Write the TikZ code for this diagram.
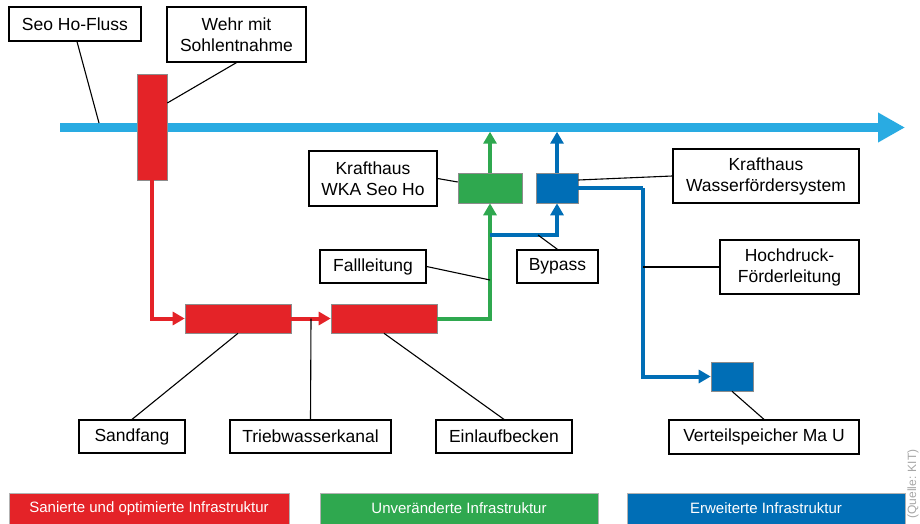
\documentclass[tikz,border=0pt]{standalone}
\usepackage{fontspec}
\setmainfont{Liberation Sans}
\usepackage{tikz}
\usetikzlibrary{arrows.meta, positioning, calc}

\definecolor{rivercyan}{HTML}{29ABE2}
\definecolor{infrared}{HTML}{E42328}
\definecolor{infragreen}{HTML}{2FA84F}
\definecolor{infrablue}{HTML}{006EB6}

\begin{document}
\begin{tikzpicture}[
        x=1pt, y=-1pt,
        tag/.style={rectangle, draw=black, line width=1.2pt, fill=white, align=center, inner sep=1pt, font=\fontsize{17.5}{21}\selectfont},
        unit/.style={rectangle, draw=black!45, line width=0.6pt, inner sep=0pt},
        legend/.style={rectangle, draw=black!30, line width=0.6pt, inner sep=0pt, minimum height=31pt, text=white, font=\fontsize{15}{18}\selectfont},
        pipe/.style={line width=4pt, -{Triangle[length=12pt, width=13pt]}},
        plainpipe/.style={line width=4pt},
        leader/.style={line width=1.1pt, black}
    ]
        \useasboundingbox (0,0) rectangle (920,524);

        % River
        \coordinate (riverW) at (60,127.5);
        \coordinate (riverE) at (905,127.5);
        \draw [rivercyan, line width=9pt, -{Triangle[length=27pt, width=28pt]}] (riverW) -- (riverE);

        % Infrastructure units
        \node (weir) [unit, fill=infrared, minimum width=30pt, minimum height=106pt] at (152,127) {};
        \node (sand) [unit, fill=infrared, minimum width=106pt, minimum height=29pt] at (238,318.5) {};
        \node (basin) [unit, fill=infrared, minimum width=106pt, minimum height=29pt] at (384,318.5) {};
        \node (khwka) [unit, fill=infragreen, minimum width=64pt, minimum height=30pt] at (490,188) {};
        \node (khwfs) [unit, fill=infrablue, minimum width=42pt, minimum height=30pt] at (557,188) {};
        \node (store) [unit, fill=infrablue, minimum width=42pt, minimum height=29pt] at (732,376.5) {};

        % Labels
        \node (lfluss) [tag, minimum width=132pt, minimum height=34pt] at (75,24) {Seo Ho-Fluss};
        \node (lwehr) [tag, minimum width=139pt, minimum height=55pt] at (236.5,34.5) {Wehr mit\\Sohlentnahme};
        \node (lwka) [tag, minimum width=128pt, minimum height=55pt] at (373,178.5) {Krafthaus\\WKA Seo Ho};
        \node (lwfs) [tag, minimum width=186pt, minimum height=54pt] at (766,176) {Krafthaus\\Wasserfördersystem};
        \node (lfall) [tag, minimum width=106pt, minimum height=33pt] at (373,266.5) {Fallleitung};
        \node (lbypass) [tag, minimum width=81pt, minimum height=33pt] at (557.5,266.5) {Bypass};
        \node (lhoch) [tag, minimum width=139pt, minimum height=54pt] at (789.5,267) {Hochdruck-\\Förderleitung};
        \node (lsand) [tag, minimum width=106pt, minimum height=33pt] at (132,436.5) {Sandfang};
        \node (lkanal) [tag, minimum width=161pt, minimum height=33pt] at (310.5,436.5) {Triebwasserkanal};
        \node (lbasin) [tag, minimum width=136pt, minimum height=33pt] at (504,436.5) {Einlaufbecken};
        \node (lstore) [tag, minimum width=190pt, minimum height=34pt] at (764,437) {Verteilspeicher Ma U};

        % Legend
        \node (legred) [legend, fill=infrared, minimum width=280pt] at (149,508.5) {Sanierte und optimierte Infrastruktur};
        \node (leggreen) [legend, fill=infragreen, minimum width=278pt] at (459,508.5) {Unveränderte Infrastruktur};
        \node (legblue) [legend, fill=infrablue, minimum width=278pt] at (766,508.5) {Erweiterte Infrastruktur};
        \node (source) [rotate=90, text=black!35, font=\fontsize{12}{14}\selectfont, inner sep=0pt] at (913,484) {(Quelle: KIT)};

        % Points on pipes
        \coordinate (fluss) at (99,123);
        \coordinate (kanal) at (311,318.5);
        \coordinate (fallpt) at (490,280);
        \coordinate (bystart) at (490,235);
        \coordinate (bypt) at (538,235);
        \coordinate (hdknee) at (643,188);
        \coordinate (hdpt) at (643,267);

        % Pipes - red
        \draw [pipe, infrared] (weir.south) |- (sand.west);
        \draw [pipe, infrared] (sand.east) -- (basin.west);

        % Pipes - green
        \draw [pipe, infragreen] (basin.east) -| (khwka.south);
        \draw [pipe, infragreen] (khwka.north) -- ($(khwka.north)+(0,-41)$);

        % Pipes - blue
        \draw [pipe, infrablue] (bystart) -| (khwfs.south);
        \draw [pipe, infrablue] (khwfs.north) -- ($(khwfs.north)+(0,-41)$);
        \draw [plainpipe, infrablue] (khwfs.east) -- (hdknee);
        \draw [pipe, infrablue] (hdknee) |- (store.west);

        % Leaders
        \draw [leader] ($(lfluss.south)+(2,0)$) -- (fluss);
        \draw [leader] (lwehr.south) -- ($(weir.east)+(0,-24)$);
        \draw [leader] (lwka.east) -- ($(khwka.west)+(0,-6)$);
        \draw [leader] ($(khwfs.east)+(0,-8)$) -- (lwfs.west);
        \draw [leader] (lfall.east) -- (fallpt);
        \draw [leader] (lbypass.north) -- (bypt);
        \draw [leader] (lhoch.west) -- (hdpt);
        \draw [leader] (sand.south) -- (lsand.north);
        \draw [leader] (kanal) -- (lkanal.north);
        \draw [leader] (basin.south) -- (lbasin.north);
        \draw [leader] (store.south) -- (lstore.north);
    \end{tikzpicture}
\end{document}
